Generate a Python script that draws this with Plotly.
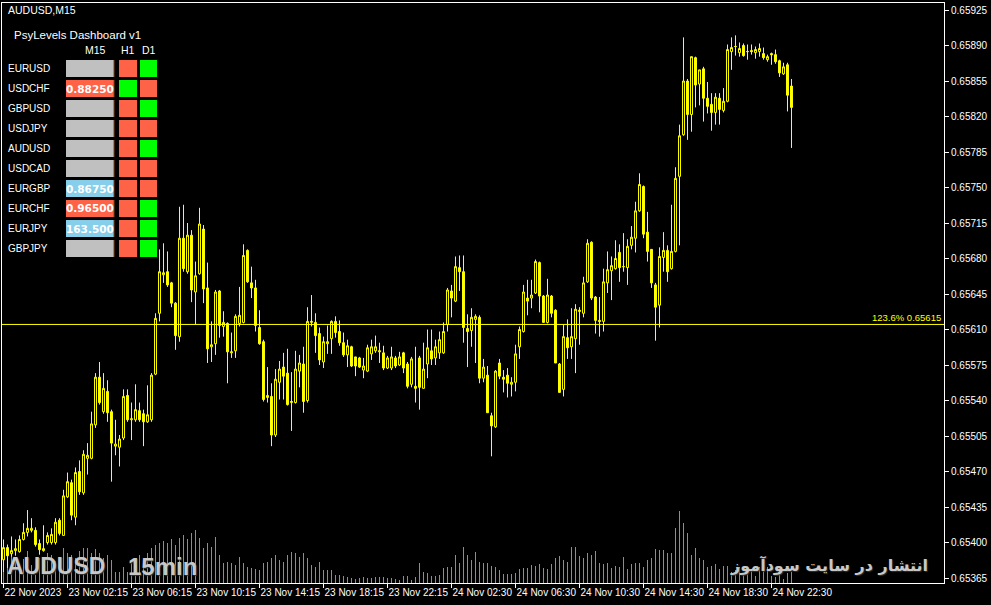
import plotly.graph_objects as go

# ---------------- data (prices in points of 0.00001) ----------------
open_pts = [65383,65395,65389,65392,65391,65403,65410,65412,65412,65399,
65392,65400,65400,65400,65422,65407,65445,65459,65425,65470,
65449,65483,65483,65516,65563,65529,65549,65529,65495,65494,
65503,65545,65521,65521,65530,65527,65519,65521,65566,65626,
65664,65667,65656,65636,65603,65700,65667,65703,65647,65665,
65709,65651,65593,65596,65648,65613,65616,65587,65589,65616,
65617,65688,65656,65651,65612,65598,65543,65544,65506,65558,
65573,65567,65538,65538,65569,65576,65540,65617,65617,65606,
65578,65596,65601,65618,65608,65597,65585,65593,65583,65582,
65570,65569,65586,65589,65588,65587,65572,65572,65582,65575,
65587,65576,65556,65554,65582,65552,65576,65589,65582,65587,
65587,65615,65648,65638,65671,65667,65611,65609,65620,65622,
65562,65565,65525,65514,65577,65563,65565,65556,65558,65593,
65608,65641,65641,65646,65676,65643,65617,65643,65629,65576,
65551,65602,65593,65601,65629,65626,65657,65696,65642,65619,
65618,65656,65668,65670,65686,65672,65671,65693,65700,65727,
65751,65706,65689,65654,65634,65681,65688,65670,65687,65761,
65802,65855,65822,65878,65852,65867,65838,65832,65824,65838,
65826,65835,65884,65889,65883,65890,65884,65885,65883,65884,
65882,65876,65882,65881,65875,65862,65871,65850]

high_pts = [65403,65398,65406,65403,65407,65419,65432,65424,65415,65403,
65417,65410,65414,65424,65424,65452,65469,65462,65474,65481,
65491,65498,65529,65567,65578,65567,65560,65531,65521,65506,
65551,65551,65538,65556,65538,65531,65555,65567,65626,65689,
65695,65687,65657,65637,65731,65733,65715,65708,65677,65730,
65713,65676,65618,65649,65649,65628,65617,65607,65625,65652,
65694,65689,65672,65659,65629,65600,65573,65557,65571,65579,
65587,65591,65568,65589,65585,65593,65632,65644,65626,65612,
65603,65614,65619,65623,65619,65607,65600,65594,65583,65583,
65582,65595,65600,65604,65597,65594,65584,65593,65584,65588,
65588,65578,65583,65593,65584,65597,65610,65610,65600,65608,
65617,65651,65654,65682,65683,65683,65625,65631,65625,65624,
65581,65574,65528,65570,65581,65570,65572,65563,65595,65613,
65654,65659,65659,65679,65677,65644,65660,65644,65630,65577,
65615,65620,65631,65635,65632,65662,65699,65697,65643,65642,
65670,65687,65682,65698,65694,65705,65699,65712,65736,65764,
65752,65726,65689,65656,65691,65706,65693,65733,65770,65812,
65898,65857,65879,65879,65866,65869,65854,65843,65843,65843,
65848,65891,65898,65900,65893,65892,65891,65891,65889,65892,
65888,65881,65883,65886,65876,65873,65873,65857]

low_pts = [65371,65375,65386,65387,65390,65402,65406,65410,65396,65388,
65391,65398,65398,65398,65407,65407,65444,65422,65417,65447,
65447,65467,65482,65513,65536,65527,65519,65460,65486,65475,
65501,65519,65501,65519,65519,65495,65518,65519,65565,65618,
65656,65652,65632,65590,65598,65667,65665,65637,65615,65664,
65636,65577,65578,65585,65602,65603,65557,65582,65582,65613,
65616,65656,65641,65608,65595,65539,65538,65495,65504,65541,
65541,65535,65510,65537,65553,65528,65538,65613,65587,65575,
65572,65586,65586,65602,65594,65583,65573,65573,65564,65572,
65562,65568,65580,65587,65577,65570,65571,65570,65572,65574,
65567,65552,65553,65538,65531,65552,65562,65575,65575,65581,
65586,65608,65622,65637,65648,65597,65573,65593,65577,65557,
65558,65528,65485,65513,65561,65548,65543,65544,65549,65581,
65607,65624,65631,65645,65627,65617,65616,65622,65577,65548,
65544,65581,65581,65567,65595,65622,65656,65639,65606,65603,
65608,65646,65639,65669,65657,65667,65654,65689,65686,65726,
65700,65677,65651,65599,65612,65667,65657,65669,65686,65693,
65801,65797,65805,65829,65831,65815,65823,65806,65812,65812,
65824,65834,65866,65880,65879,65879,65876,65881,65877,65879,
65876,65874,65871,65872,65859,65861,65825,65789]

close_pts = [65395,65387,65392,65394,65403,65410,65414,65414,65398,65393,
65394,65407,65408,65420,65409,65446,65460,65427,65469,65450,
65487,65486,65517,65563,65538,65552,65528,65498,65497,65502,
65544,65521,65522,65531,65521,65519,65526,65565,65621,65667,
65666,65654,65636,65604,65700,65670,65703,65649,65663,65714,
65650,65591,65595,65647,65614,65617,65588,65588,65623,65624,
65683,65657,65651,65614,65596,65541,65545,65506,65561,65571,
65564,65536,65539,65571,65577,65539,65618,65618,65604,65580,
65598,65598,65618,65607,65597,65585,65594,65574,65574,65573,
65574,65592,65593,65593,65589,65572,65582,65583,65574,65583,
65572,65554,65581,65552,65553,65571,65592,65581,65593,65600,
65608,65649,65641,65672,65667,65612,65608,65622,65623,65562,
65573,65528,65515,65569,65564,65561,65557,65558,65586,65610,
65647,65638,65644,65677,65643,65617,65644,65626,65577,65548,
65603,65592,65603,65630,65628,65656,65695,65641,65619,65618,
65657,65669,65673,65680,65671,65672,65692,65701,65727,65753,
65704,65687,65656,65632,65682,65688,65667,65687,65759,65801,
65855,65822,65879,65851,65866,65838,65830,65824,65839,65827,
65835,65886,65888,65889,65887,65880,65884,65884,65886,65887,
65878,65879,65881,65874,65863,65869,65841,65829]

volumes = [280,220,300,250,200,240,320,180,80,250,
200,300,280,220,260,350,300,280,250,320,
350,350,300,340,300,250,280,230,110,110,
160,110,200,250,280,220,300,350,380,400,
420,400,440,380,450,480,440,500,530,450,
350,400,360,460,280,200,210,200,180,260,
200,160,150,140,130,200,210,250,280,230,
210,280,310,300,260,300,250,180,160,210,
130,130,130,80,80,70,60,50,40,50,
60,50,50,60,60,60,50,50,40,30,
70,70,30,60,200,110,100,70,70,80,
150,160,160,280,200,360,280,230,310,210,
200,200,170,160,130,90,90,90,100,140,
150,150,180,170,190,150,140,190,250,270,
230,210,360,360,270,250,300,280,320,200,
190,200,150,170,160,260,140,190,200,200,
160,230,250,340,330,330,300,300,550,720,
600,500,280,350,250,230,160,170,190,140,
170,170,110,130,160,100,150,130,70,160,
160,160,70,60,110,40,100,110]

time_tick_idx = [0, 16, 32, 48, 64, 80, 96, 112, 128, 144, 160, 176, 192]
time_tick_text = ["22 Nov 2023", "23 Nov 02:15", "23 Nov 06:15", "23 Nov 10:15",
                  "23 Nov 14:15", "23 Nov 18:15", "23 Nov 22:15", "24 Nov 02:30",
                  "24 Nov 06:30", "24 Nov 10:30", "24 Nov 14:30", "24 Nov 18:30",
                  "24 Nov 22:30"]
price_ticks = [0.65925, 0.65890, 0.65855, 0.65820, 0.65785, 0.65750, 0.65715,
               0.65680, 0.65645, 0.65610, 0.65575, 0.65540, 0.65505, 0.65470,
               0.65435, 0.65400, 0.65365]
level_price = 0.65615
level_label = "123.6% 0.65615"

pairs = ["EURUSD", "USDCHF", "GBPUSD", "USDJPY", "AUDUSD",
         "USDCAD", "EURGBP", "EURCHF", "EURJPY", "GBPJPY"]
m15_state = ["none", "sell", "none", "none", "none", "none", "buy", "sell", "buy", "none"]
m15_text = ["", "0.88250", "", "", "", "", "0.86750", "0.96500", "163.500", ""]
h1_state = ["dn", "up", "dn", "dn", "dn", "dn", "dn", "dn", "dn", "dn"]
d1_state = ["up", "dn", "up", "dn", "up", "dn", "dn", "up", "up", "up"]

# ---------------- styles ----------------
W, H = 991, 605
ML, MR, MT, MB = 2, 47, 3, 22
PW, PH = W - ML - MR, H - MT - MB
YELLOW = "#FFFF00"
VOLGREEN = "#32CD32"
state_color = {"none": "#C0C0C0", "sell": "#FF6347", "buy": "#87CEEB",
               "up": "#00FF00", "dn": "#FF6347"}
FONT = "Liberation Sans, Arial, sans-serif"


def px(x):
    return (x - ML) / PW


def py(y):
    return (H - MB - y) / PH


xs = list(range(len(close_pts)))
opens = [v / 100000 for v in open_pts]
highs = [v / 100000 for v in high_pts]
lows = [v / 100000 for v in low_pts]
closes = [v / 100000 for v in close_pts]

fig = go.Figure()
fig.add_trace(go.Bar(x=xs, y=volumes, marker=dict(color=VOLGREEN, line=dict(width=0)),
                     width=0.25, yaxis="y", showlegend=False, hoverinfo="skip"))
fig.add_trace(go.Candlestick(
    x=xs, open=opens, high=highs, low=lows, close=closes, yaxis="y2",
    increasing=dict(line=dict(color=YELLOW, width=1), fillcolor="#000000"),
    decreasing=dict(line=dict(color=YELLOW, width=1), fillcolor=YELLOW),
    whiskerwidth=0, showlegend=False))

shapes = [dict(type="line", xref="paper", x0=0, x1=1, yref="y2",
               y0=level_price, y1=level_price, line=dict(color=YELLOW, width=1))]
annotations = [
    dict(text=level_label, xref="paper", x=0.999, xanchor="right", yref="y2",
         y=level_price, yanchor="bottom", yshift=-1, showarrow=False,
         font=dict(color=YELLOW, size=9.5, family=FONT)),
    dict(text="AUDUSD,M15", xref="paper", yref="paper", x=px(6), y=py(10),
         xanchor="left", yanchor="middle", showarrow=False,
         font=dict(color="white", size=10.5, family=FONT)),
    dict(text="PsyLevels Dashboard v1", xref="paper", yref="paper", x=px(12), y=py(35),
         xanchor="left", yanchor="middle", showarrow=False,
         font=dict(color="white", size=11.5, family=FONT)),
]
for txt, cx in (("M15", 95), ("H1", 128), ("D1", 149)):
    annotations.append(dict(text=txt, xref="paper", yref="paper", x=px(cx), y=py(50),
                            xanchor="center", yanchor="middle", showarrow=False,
                            font=dict(color="white", size=10.5, family=FONT)))

for k, name in enumerate(pairs):
    top = 60 + 20 * k
    annotations.append(dict(text=name, xref="paper", yref="paper", x=px(6), y=py(top + 8.5),
                            xanchor="left", yanchor="middle", showarrow=False,
                            font=dict(color="white", size=10, family=FONT)))
    for (x0, x1), col in (((66, 114), state_color[m15_state[k]]),
                          ((119, 137), state_color[h1_state[k]]),
                          ((140, 157), state_color[d1_state[k]])):
        shapes.append(dict(type="rect", xref="paper", yref="paper", x0=px(x0), x1=px(x1),
                           y0=py(top + 17), y1=py(top), fillcolor=col, line=dict(width=0)))
    shapes.append(dict(type="line", xref="paper", yref="paper", x0=px(114), x1=px(114),
                       y0=py(top + 17), y1=py(top), line=dict(color="#8B4513", width=1)))
    if m15_text[k]:
        annotations.append(dict(text="<b>" + m15_text[k] + "</b>", xref="paper", yref="paper",
                                x=px(90), y=py(top + 8.5), xanchor="center", yanchor="middle",
                                showarrow=False,
                                font=dict(color="white", size=10.5, family="DejaVu Sans, sans-serif")))

WM = "Liberation Sans, Arial, sans-serif"
annotations += [
    dict(text="<b>AUDUSD</b>", xref="paper", yref="paper", x=px(5), y=py(566),
         xanchor="left", yanchor="middle", showarrow=False,
         font=dict(color="#C8C8C8", size=23, family=WM, shadow="1px 1px 1px #303030")),
    dict(text="<b>15min</b>", xref="paper", yref="paper", x=px(126), y=py(566),
         xanchor="left", yanchor="middle", showarrow=False,
         font=dict(color="#C8C8C8", size=24, family=WM, shadow="1px 1px 1px #303030")),
    dict(text="<b>انتشار در سایت سودآموز</b>", xref="paper", yref="paper", x=px(930), y=py(565),
         xanchor="right", yanchor="middle", showarrow=False,
         font=dict(color="#C8C8C8", size=16, family="DejaVu Sans, sans-serif",
                   shadow="1px 1px 1px #303030")),
]

fig.update_layout(
    width=W, height=H, margin=dict(l=ML, r=MR, t=MT, b=MB, autoexpand=False),
    paper_bgcolor="black", plot_bgcolor="black", showlegend=False,
    bargap=0,
    xaxis=dict(range=[-0.375, 235.125], rangeslider=dict(visible=False), showgrid=False,
               zeroline=False, showline=True, mirror=True, linecolor="white", linewidth=1,
               tickmode="array", tickvals=time_tick_idx, ticktext=time_tick_text,
               ticks="outside", ticklen=4, tickcolor="white", tickangle=0,
               ticklabelposition="outside right", automargin=False,
               tickfont=dict(color="white", size=10, family=FONT)),
    yaxis=dict(range=[0, PH * 10], showgrid=False, zeroline=False, showticklabels=False,
               showline=True, mirror=True, linecolor="white", linewidth=1, ticks="",
               automargin=False),
    yaxis2=dict(overlaying="y", side="right", anchor="x", automargin=False,
                range=[0.653601, 0.659319], showgrid=False, zeroline=False,
                tickmode="array", tickvals=price_ticks,
                ticktext=["%.5f" % v for v in price_ticks],
                ticks="outside", ticklen=4, tickcolor="white",
                tickfont=dict(color="white", size=10, family=FONT)),
    shapes=shapes, annotations=annotations,
)

fig.write_html("out.html", config={"displayModeBar": False},
               post_script="document.body.style.margin='0';document.body.style.overflow='hidden';document.body.style.background='black';")
